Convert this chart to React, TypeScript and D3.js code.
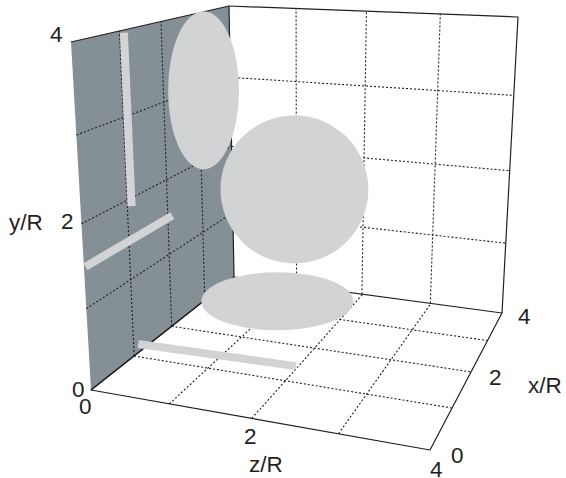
import React from "react";
import * as d3 from "d3";

const W = 566, H = 478;
const gridValues = [1, 2, 3];
const LIMIT = 4;
const PX_PER_UNIT = 67.5;

// Frame corners of the three walls, listed (a=0,b=0),(a=4,b=0),(a=4,b=4),(a=0,b=4)
const floorQuad: [number, number][] = [[91, 390], [430, 450], [502, 313], [234, 277]]; // a=z, b=x
const sideQuad: [number, number][] = [[91, 390], [234, 277], [229, 6], [71, 42]]; // a=x, b=y
const backQuad: [number, number][] = [[234, 277], [502, 313], [518, 17], [229, 6]]; // a=z, b=y

// Projections of the particle, in R units
const floorEllipse = { z: 0.965, x: 3.32, rx: 1.126, ry: 0.43 };
const sideEllipse = { x: 3.13, y: 2.96, rx: 0.525, ry: 1.17 };
const backCircle = { z: 0.97, y: 1.45, r: 1.096 };

// Rods, in R units
const sideRodA = [[1.1, 3.97], [1.1, 1.9]]; // x,y
const sideRodB = [[0.03, 1.49], [2.12, 1.49]]; // x,y
const floorRod = [[-0.13, 1.34], [1.97, 1.42]]; // z,x

const homography = (q: [number, number][]) => {
  const [[x0, y0], [x1, y1], [x2, y2], [x3, y3]] = q;
  const dx1 = x1 - x2, dx2 = x3 - x2, sx = x0 - x1 + x2 - x3;
  const dy1 = y1 - y2, dy2 = y3 - y2, sy = y0 - y1 + y2 - y3;
  const den = dx1 * dy2 - dx2 * dy1;
  const g = (sx * dy2 - dx2 * sy) / den;
  const h = (dx1 * sy - sx * dy1) / den;
  const a = x1 - x0 + g * x1, b = x3 - x0 + h * x3, c = x0;
  const d = y1 - y0 + g * y1, e = y3 - y0 + h * y3, f = y0;
  const unit = d3.scaleLinear().domain([0, LIMIT]).range([0, 1]);
  return (p: number, r: number): [number, number] => {
    const u = unit(p), v = unit(r);
    const w = g * u + h * v + 1;
    return [(a * u + b * v + c) / w, (d * u + e * v + f) / w];
  };
};

const floor = homography(floorQuad);
const side = homography(sideQuad);
const back = homography(backQuad);
const line = d3.line();

const INK = "#231f20";
const WALL = "#848f96";
const SHAPE = "#d1d3d4";

const Grid = ({ f }: { f: (a: number, b: number) => [number, number] }) => (
  <>
    {gridValues.flatMap((v) => [
      <path key={"a" + v} d={line([f(v, 0), f(v, LIMIT)]) as string} />,
      <path key={"b" + v} d={line([f(0, v), f(LIMIT, v)]) as string} />,
    ])}
  </>
);

const labels: [string, number, number][] = [
  ["4", 50, 42], ["2", 61, 229], ["y/R", 9, 230], ["0", 72, 397],
  ["0", 79, 414], ["2", 244, 444], ["z/R", 249, 472], ["4", 430, 477],
  ["0", 451, 463], ["2", 489, 385], ["4", 518, 324], ["x/R", 528, 393],
];

export default function App() {
  const fc = floor(floorEllipse.z, floorEllipse.x);
  const sc = side(sideEllipse.x, sideEllipse.y);
  const bc = back(backCircle.z, backCircle.y);
  return (
    <svg width={W} height={H} viewBox={`0 0 ${W} ${H}`}
      style={{ position: "absolute", left: 0, top: 0, background: "#fff" }}>
      <path d={(line(sideQuad) as string) + "Z"} fill={WALL} />
      <g fill="none" stroke={INK} strokeWidth={1.1} strokeDasharray="2 2">
        <Grid f={floor} />
        <Grid f={side} />
        <Grid f={back} />
      </g>
      <g fill="none" stroke={INK} strokeWidth={1.2} strokeLinejoin="round">
        <path d={(line(floorQuad) as string) + "Z"} />
        <path d={line(sideQuad) as string} />
        <path d={line(backQuad.slice(1).concat([backQuad[3]])) as string} />
      </g>
      <g fill={SHAPE}>
        <ellipse cx={sc[0]} cy={sc[1]} rx={sideEllipse.rx * PX_PER_UNIT} ry={sideEllipse.ry * PX_PER_UNIT} />
        <circle cx={bc[0]} cy={bc[1]} r={backCircle.r * PX_PER_UNIT} />
        <ellipse cx={fc[0]} cy={fc[1]} rx={floorEllipse.rx * PX_PER_UNIT} ry={floorEllipse.ry * PX_PER_UNIT} />
      </g>
      <g fill="none" stroke={SHAPE} strokeWidth={8}>
        <path d={line(sideRodA.map(([a, b]) => side(a, b))) as string} />
        <path d={line(sideRodB.map(([a, b]) => side(a, b))) as string} />
        <path d={line(floorRod.map(([a, b]) => floor(a, b))) as string} />
      </g>
      <g fontFamily="'Liberation Sans', Arial, sans-serif" fontSize={22.5} fill={INK}>
        {labels.map(([t, x, y], i) => (
          <text key={i} x={x} y={y}>{t}</text>
        ))}
      </g>
    </svg>
  );
}
